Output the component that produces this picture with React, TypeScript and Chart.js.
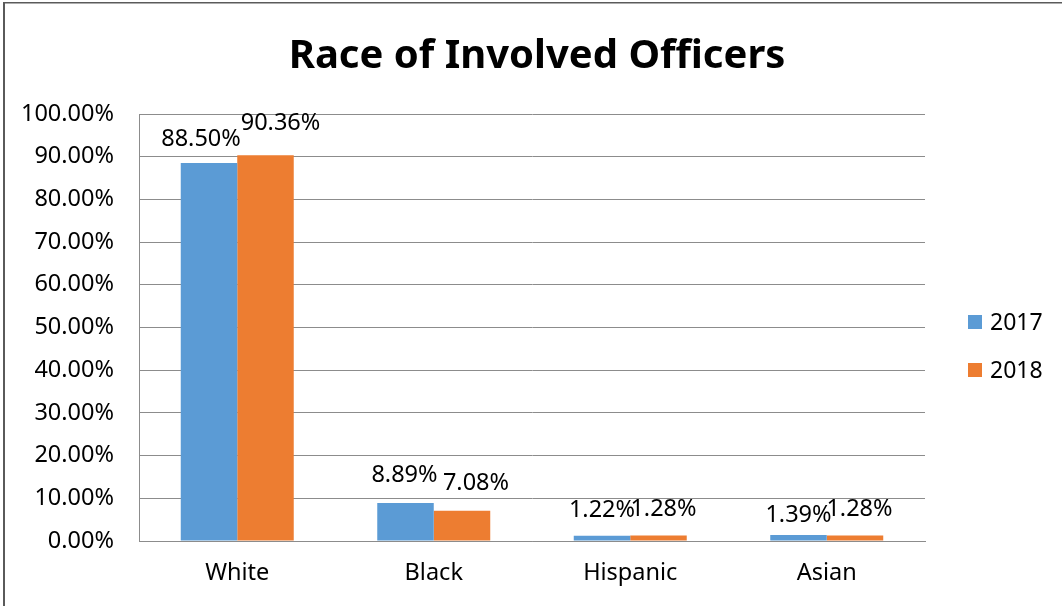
import React, { useEffect, useRef } from "react";
import { Chart, registerables } from "chart.js";

Chart.register(...registerables);

// ---- data ----
const chartTitle = "Race of Involved Officers";
const categories = ["White", "Black", "Hispanic", "Asian"];
const seriesNames = ["2017", "2018"];
const values2017 = [88.5, 8.89, 1.22, 1.39];
const values2018 = [90.36, 7.08, 1.28, 1.28];
const yMin = 0;
const yMax = 100;
const yStep = 10;

// ---- style ----
const COLORS = ["#5B9BD5", "#ED7D31"];
const FONT = '"Noto Sans", "Open Sans", sans-serif';
const GRID = "#8c8c8c";
const TEXT_SIZE = 23.5;
// data-label nudges [dx, distance above bar top] per series / category
const labelNudge = [
  [[-8, 24], [-1, 27.5], [0, 25], [0, 20]],
  [[15, 31.5], [14, 27.5], [5, 26], [4.5, 26.5]],
];

const fmt = (v: number) => v.toFixed(2) + "%";

const decorPlugin = {
  id: "decor",
  beforeDraw(chart: any) {
    const { ctx, width, height } = chart;
    ctx.save();
    ctx.fillStyle = "#ffffff";
    ctx.fillRect(0, 0, width, height);
    ctx.fillStyle = "#5a5a5a";
    ctx.fillRect(3, 2, 2, height - 2);
    ctx.fillRect(3, 2, width - 3, 1.5);
    ctx.restore();
  },
  afterDatasetsDraw(chart: any) {
    const ctx = chart.ctx;
    ctx.save();
    ctx.font = `${TEXT_SIZE}px ${FONT}`;
    ctx.fillStyle = "#000";
    ctx.textAlign = "center";
    ctx.textBaseline = "middle";
    chart.data.datasets.forEach((ds: any, di: number) => {
      const meta = chart.getDatasetMeta(di);
      meta.data.forEach((el: any, i: number) => {
        const [dx, dy] = labelNudge[di][i];
        ctx.fillText(fmt(ds.data[i]), el.x + dx, el.y - dy);
      });
    });
    ctx.restore();
  },
  afterDraw(chart: any) {
    const ctx = chart.ctx;
    ctx.save();
    // title
    ctx.font = `bold 40px ${FONT}`;
    ctx.fillStyle = "#000";
    ctx.textAlign = "center";
    ctx.textBaseline = "alphabetic";
    ctx.fillText(chartTitle, 537, 68);
    // legend
    ctx.font = `23px ${FONT}`;
    ctx.textAlign = "left";
    ctx.textBaseline = "middle";
    seriesNames.forEach((name, i) => {
      const cy = 322 + i * 48;
      ctx.fillStyle = COLORS[i];
      ctx.fillRect(968, cy - 7, 14, 14);
      ctx.fillStyle = "#000";
      ctx.fillText(name, 990, cy + 1);
    });
    ctx.restore();
  },
};

export default function App() {
  const ref = useRef<HTMLCanvasElement | null>(null);

  useEffect(() => {
    if (!ref.current) return;
    const chart = new Chart(ref.current, {
      type: "bar",
      data: {
        labels: categories,
        datasets: [
          {
            label: seriesNames[0],
            data: values2017,
            backgroundColor: COLORS[0],
            borderWidth: 0,
            barPercentage: 1,
            categoryPercentage: 0.575,
          },
          {
            label: seriesNames[1],
            data: values2018,
            backgroundColor: COLORS[1],
            borderWidth: 0,
            barPercentage: 1,
            categoryPercentage: 0.575,
          },
        ],
      },
      options: {
        responsive: false,
        animation: false,
        devicePixelRatio: 1,
        layout: { padding: { top: 114, right: 137, bottom: 0, left: 0 } },
        plugins: {
          legend: { display: false },
          title: { display: false },
          tooltip: { enabled: false },
        },
        scales: {
          x: {
            grid: { display: false, drawTicks: false },
            border: { display: true, color: GRID, width: 1 },
            ticks: {
              color: "#000",
              font: { family: FONT, size: TEXT_SIZE },
              padding: 18,
            },
            afterFit: (scale: any) => {
              scale.height = 65;
            },
          },
          y: {
            min: yMin,
            max: yMax,
            grid: { color: GRID, lineWidth: 1, drawTicks: false },
            border: { display: true, color: GRID, width: 1 },
            ticks: {
              stepSize: yStep,
              color: "#000",
              font: { family: FONT, size: TEXT_SIZE },
              padding: 25,
              callback: (v: any) => fmt(Number(v)),
            },
            afterFit: (scale: any) => {
              scale.width = 139;
            },
          },
        },
      },
      plugins: [decorPlugin],
    });
    return () => chart.destroy();
  }, []);

  return (
    <div style={{ position: "absolute", left: 0, top: 0, width: 1062, height: 606 }}>
      <canvas ref={ref} width={1062} height={606} />
    </div>
  );
}
